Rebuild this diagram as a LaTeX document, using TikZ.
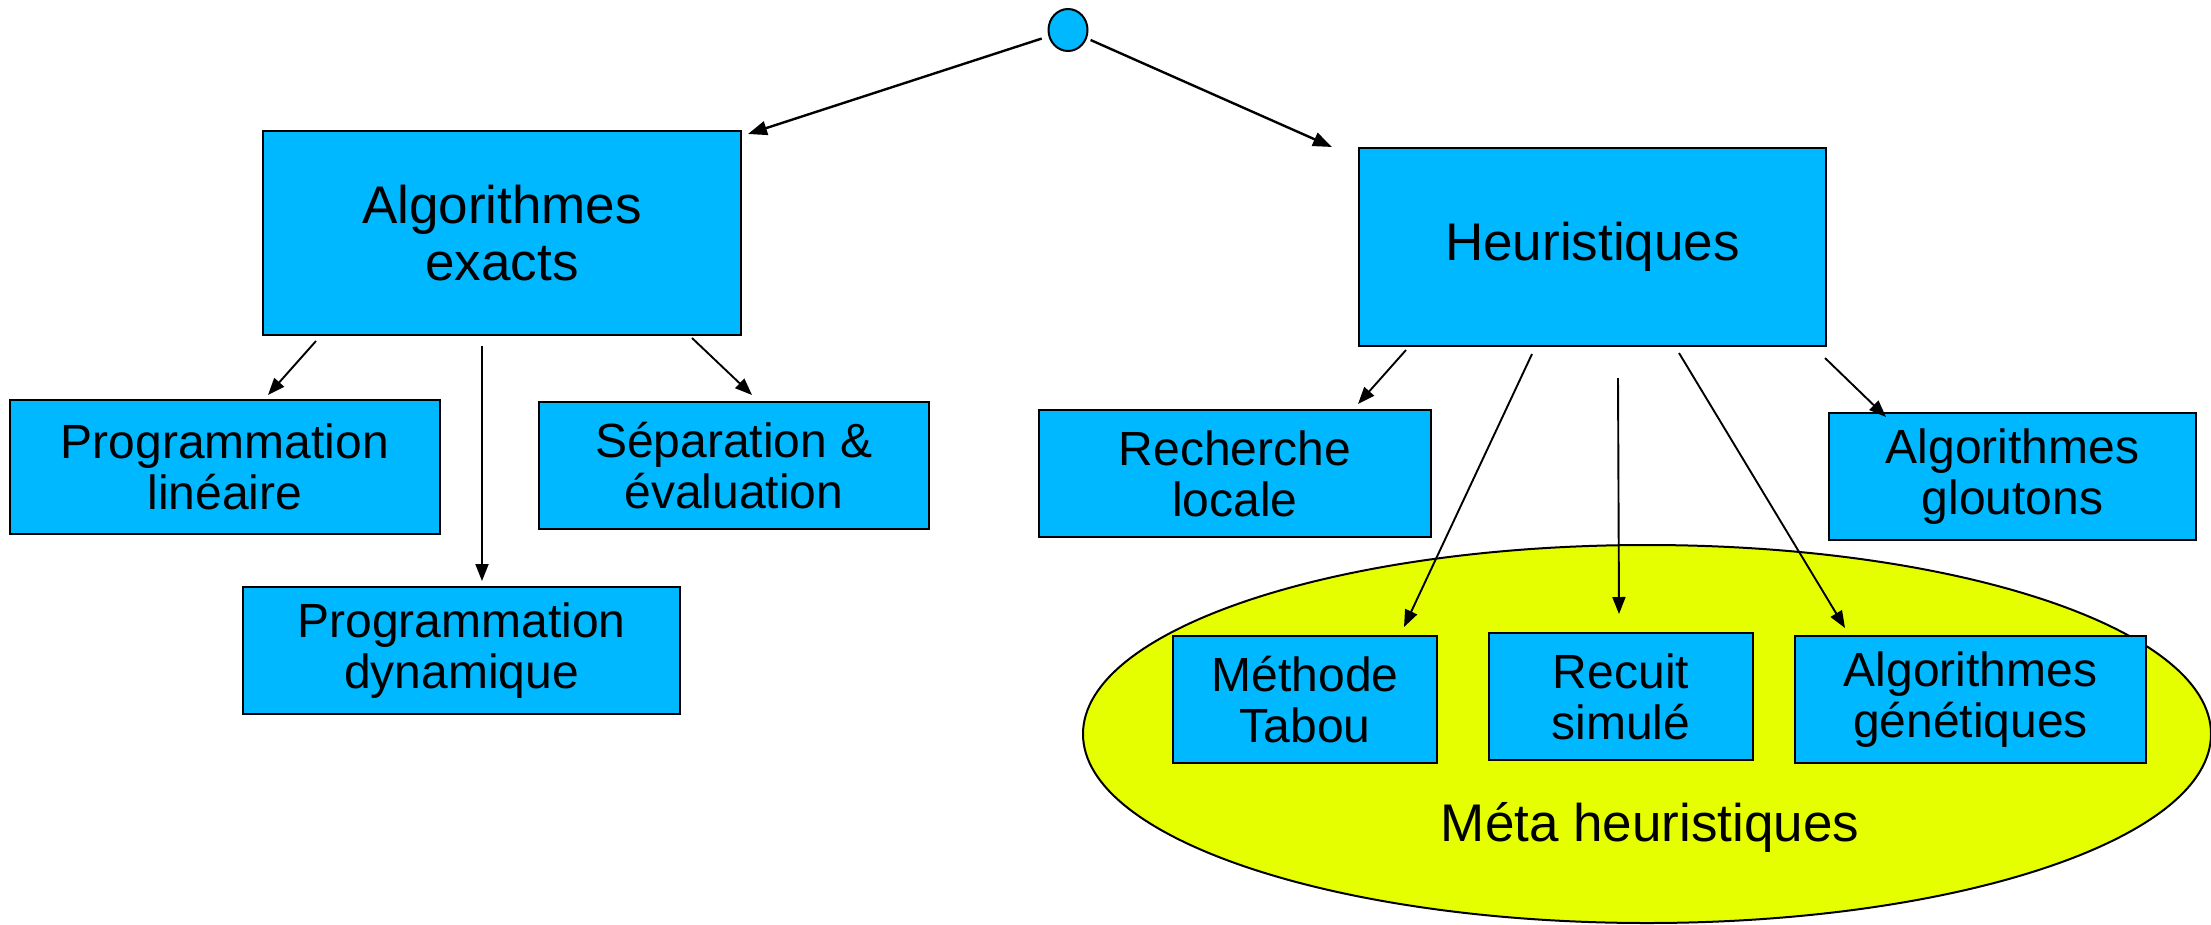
\documentclass[tikz,border=0pt]{standalone}
\usepackage{fontspec}
\setmainfont{Liberation Sans}
\usetikzlibrary{shapes.geometric,arrows.meta}
\definecolor{boxblue}{HTML}{00B8FF}
\definecolor{metayellow}{HTML}{E6FF00}
\tikzset{
  bbox/.style={draw=black, line width=2pt, fill=boxblue, inner sep=0pt, align=center, text=black},
  bigtxt/.style={font=\fontsize{53}{57}\selectfont},
  smalltxt/.style={font=\fontsize{48}{51}\selectfont},
  arr/.style={draw=black, line width=1.9pt, -{Triangle[length=17pt,width=13pt]}},
  rootarr/.style={draw=black, line width=2.4pt, -{Triangle[length=19pt,width=14pt]}},
}
\begin{document}
\begin{tikzpicture}[x=1pt,y=-1pt]
\useasboundingbox (0,0) rectangle (2211,924);
% ellipse
\node[ellipse, draw=black, line width=2pt, fill=metayellow, minimum width=1128pt, minimum height=378pt, inner sep=0pt] (meta) at (1647,734) {};
\node[font=\fontsize{53}{57}\selectfont, anchor=base] (metalbl) at (1650,841) {Méta heuristiques};
% root
\node[ellipse, draw=black, line width=2pt, fill=boxblue, minimum width=39pt, minimum height=42pt, inner sep=0pt] (root) at (1068,30) {};
% main boxes
\node[bbox, bigtxt, minimum width=478pt, minimum height=204pt] (ae) at (502,233) {Algorithmes\\exacts};
\node[bbox, bigtxt, minimum width=467pt, minimum height=198pt] (he) at (1592.5,247) {Heuristiques};
% children of exact
\node[bbox, smalltxt, minimum width=430pt, minimum height=134pt] (pl) at (225,467) {Programmation\\linéaire};
\node[bbox, smalltxt, minimum width=390pt, minimum height=127pt] (se) at (734,465.5) {Séparation \&\\évaluation};
\node[bbox, smalltxt, minimum width=437pt, minimum height=127pt] (pd) at (461.5,650.5) {Programmation\\dynamique};
% children of heuristics
\node[bbox, smalltxt, minimum width=392pt, minimum height=127pt] (rl) at (1235,473.5) {Recherche\\locale};
\node[bbox, smalltxt, minimum width=367pt, minimum height=127pt] (gl) at (2012.5,476.5) {Algorithmes\\gloutons};
\node[bbox, smalltxt, minimum width=264pt, minimum height=127pt] (mt) at (1305,699.5) {Méthode\\Tabou};
\node[bbox, smalltxt, minimum width=264pt, minimum height=127pt] (rs) at (1621,696.5) {Recuit\\simulé};
\node[bbox, smalltxt, minimum width=351pt, minimum height=127pt] (ag) at (1970.5,699.5) {Algorithmes\\génétiques};
% connectors
\draw[rootarr, shorten <=7pt] (root) -- ([xshift=6pt,yshift=-4pt]ae.north east);
\draw[rootarr, shorten <=4pt] (root) -- ([xshift=-26pt,yshift=0pt]he.north west);
\draw[arr] ([xshift=54pt,yshift=-5pt]ae.south west) -- ([xshift=43pt,yshift=4pt]pl.north);
\draw[arr] ([xshift=-20pt,yshift=-10pt]ae.south) -- ([xshift=20.5pt,yshift=5pt]pd.north);
\draw[arr] ([xshift=-50pt,yshift=-2pt]ae.south east) -- ([xshift=214pt,yshift=6pt]se.north west);
\draw[arr] ([xshift=48pt,yshift=-3pt]he.south west) -- ([xshift=-74pt,yshift=5pt]rl.north east);
\draw[arr] ([xshift=-60.5pt,yshift=-7pt]he.south) -- ([xshift=-34pt,yshift=8pt]mt.north east);
\draw[arr] ([xshift=25.5pt,yshift=-31pt]he.south) -- ([xshift=-2pt,yshift=18pt]rs.north);
\draw[arr] ([xshift=86.5pt,yshift=-6pt]he.south) -- ([xshift=51pt,yshift=7pt]ag.north west);
\draw[arr] ([xshift=-2pt,yshift=-11pt]he.south east) -- ([xshift=58pt,yshift=-5pt]gl.north west);
\end{tikzpicture}
\end{document}
